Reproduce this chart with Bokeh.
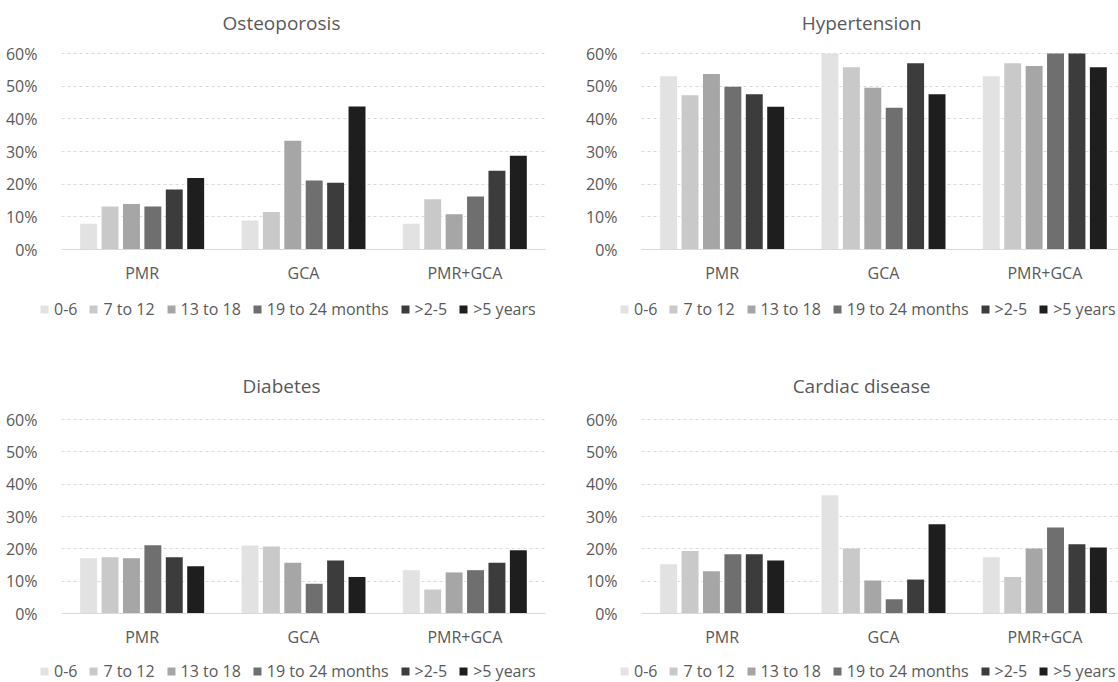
from bokeh.plotting import figure
from bokeh.models import (Range1d, FixedTicker, NumeralTickFormatter, Legend, LegendItem,
                          ColumnDataSource, Label)
from bokeh.layouts import column, row
from bokeh.transform import dodge
from bokeh.embed import file_html
from bokeh.resources import INLINE

# ---------------- data ----------------
categories = ["PMR", "GCA", "PMR+GCA"]
series = ["0-6", "7 to 12", "13 to 18", "19 to 24 months", ">2-5", ">5 years"]
colors = ["#e2e2e2", "#c9c9c9", "#a6a6a6", "#6f6f6f", "#3c3c3c", "#1e1e1e"]
y_ticks = [0.0, 0.1, 0.2, 0.3, 0.4, 0.5, 0.6]

# Osteoporosis (%), values per category [PMR, GCA, PMR+GCA]
osteo_0_6 = [7.9, 8.9, 7.9]
osteo_7_12 = [13.2, 11.5, 15.4]
osteo_13_18 = [13.9, 33.3, 10.8]
osteo_19_24 = [13.2, 21.1, 16.2]
osteo_2_5y = [18.4, 20.4, 24.1]
osteo_5y = [21.9, 43.8, 28.7]

# Hypertension (%)
hyper_0_6 = [53.0, 60.0, 53.0]
hyper_7_12 = [47.2, 55.8, 57.0]
hyper_13_18 = [53.7, 49.5, 56.2]
hyper_19_24 = [49.8, 43.4, 60.0]
hyper_2_5y = [47.5, 57.0, 60.0]
hyper_5y = [43.7, 47.5, 55.8]

# Diabetes (%)
diab_0_6 = [17.1, 21.0, 13.4]
diab_7_12 = [17.4, 20.7, 7.4]
diab_13_18 = [17.1, 15.7, 12.7]
diab_19_24 = [21.1, 9.2, 13.4]
diab_2_5y = [17.4, 16.4, 15.7]
diab_5y = [14.6, 11.3, 19.6]

# Cardiac disease (%)
card_0_6 = [15.2, 36.6, 17.4]
card_7_12 = [19.3, 20.1, 11.3]
card_13_18 = [13.1, 10.2, 20.1]
card_19_24 = [18.3, 4.4, 26.6]
card_2_5y = [18.3, 10.5, 21.4]
card_5y = [16.4, 27.6, 20.4]

osteoporosis = [osteo_0_6, osteo_7_12, osteo_13_18, osteo_19_24, osteo_2_5y, osteo_5y]
hypertension = [hyper_0_6, hyper_7_12, hyper_13_18, hyper_19_24, hyper_2_5y, hyper_5y]
diabetes = [diab_0_6, diab_7_12, diab_13_18, diab_19_24, diab_2_5y, diab_5y]
cardiac = [card_0_6, card_7_12, card_13_18, card_19_24, card_2_5y, card_5y]

# ---------------- style / layout ----------------
FONT = "Open Sans"
TEXT = "#595959"
GRID = "#d9d9d9"
PITCH_PX = 161.33          # pixels per category group
BAR_PITCH = 0.1327         # bar step inside a group (category units)
BAR_W = 0.105              # bar width (category units)
LEFT = 61                  # pixels from figure left to the 0 of the x scale


def make_panel(title, values, fig_w, fig_h, zero_y, px_per_60, title_y, legend_y):
    """zero_y: pixel row of 0%; px_per_60: pixels between 0% and 60%."""
    scale = px_per_60 / 0.6
    x_rng = Range1d(-LEFT / PITCH_PX, (fig_w - LEFT) / PITCH_PX)
    y_rng = Range1d(-(fig_h - zero_y) / scale, zero_y / scale)
    p = figure(width=fig_w, height=fig_h, x_range=x_rng, y_range=y_rng,
               output_backend="svg", toolbar_location=None,
               min_border_left=0, min_border_right=0, min_border_top=0, min_border_bottom=0)
    p.outline_line_color = None
    p.background_fill_color = "white"
    p.border_fill_color = "white"

    ncat = len(categories)
    centers = [i + 0.5 for i in range(ncat)]
    data = {"x": centers, "cat": categories}
    for j, vals in enumerate(values):
        data[f"s{j}"] = [v / 100.0 for v in vals]
    src = ColumnDataSource(data)

    items = []
    n = len(series)
    for j, name in enumerate(series):
        r = p.vbar(x=dodge("x", (j - (n - 1) / 2) * BAR_PITCH), top=f"s{j}", bottom=0,
                   width=BAR_W, source=src, fill_color=colors[j], line_color=None)
        items.append(LegendItem(label=name, renderers=[r]))

    # y axis, drawn at x = 0
    p.yaxis.fixed_location = 0
    p.yaxis.ticker = FixedTicker(ticks=y_ticks)
    p.yaxis.formatter = NumeralTickFormatter(format="0%")
    p.yaxis.axis_line_color = None
    p.yaxis.major_tick_line_color = None
    p.yaxis.minor_tick_line_color = None
    p.yaxis.major_label_standoff = 18
    p.yaxis.major_label_text_font = FONT
    p.yaxis.major_label_text_font_size = "16px"
    p.yaxis.major_label_text_color = TEXT

    # x axis, drawn at y = 0
    p.xaxis.fixed_location = 0
    p.xaxis.bounds = (0, ncat)
    p.xaxis.ticker = FixedTicker(ticks=centers)
    p.xaxis.major_label_overrides = {c: cat for c, cat in zip(centers, categories)}
    p.xaxis.axis_line_color = GRID
    p.xaxis.axis_line_width = 1
    p.xaxis.major_tick_line_color = None
    p.xaxis.minor_tick_line_color = None
    p.xaxis.major_label_standoff = 6
    p.xaxis.major_label_text_font = FONT
    p.xaxis.major_label_text_font_size = "16px"
    p.xaxis.major_label_text_color = TEXT

    p.xgrid.grid_line_color = None
    p.ygrid.ticker = FixedTicker(ticks=y_ticks[1:])
    p.ygrid.cross_bounds = (0, ncat)
    p.ygrid.grid_line_color = GRID
    p.ygrid.grid_line_dash = "3 3"
    p.ygrid.grid_line_width = 1

    # title
    p.add_layout(Label(x=LEFT + 220, y=fig_h - title_y, x_units="screen", y_units="screen",
                       text=title, text_align="center", text_baseline="middle",
                       text_font=FONT, text_font_size="19px", text_color=TEXT))

    legend = Legend(items=items, orientation="horizontal",
                    location=(LEFT - 22, fig_h - legend_y - 11),
                    glyph_width=10, glyph_height=10, label_standoff=5, spacing=11,
                    padding=0, margin=0, border_line_color=None,
                    background_fill_alpha=0, label_height=10, label_width=10,
                    label_text_font=FONT, label_text_font_size="16px",
                    label_text_color=TEXT)
    p.add_layout(legend)
    return p


p1 = make_panel("Osteoporosis", osteoporosis, 580, 365, 249, 196, 22, 309)
p2 = make_panel("Hypertension", hypertension, 538, 365, 249, 196, 22, 309)
p3 = make_panel("Diabetes", diabetes, 580, 317, 248, 194, 20, 306)
p4 = make_panel("Cardiac disease", cardiac, 538, 317, 248, 194, 20, 306)

layout = column(row(p1, p2), row(p3, p4))

open("out.html", "w").write(file_html(layout, INLINE))
